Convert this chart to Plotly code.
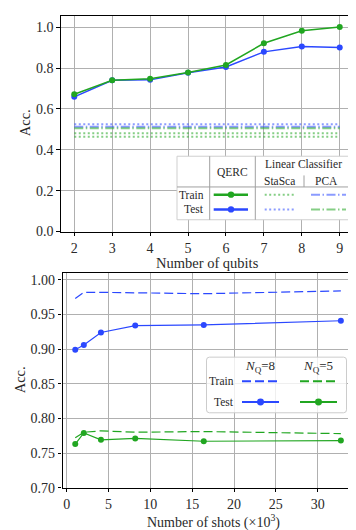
import plotly.graph_objects as go

W, H = 356, 530
FONT = "Liberation Serif"
GREEN = "#21a621"
BLUE = "#2b48ff"
LGREEN = "rgba(33,166,33,0.55)"
LBLUE = "rgba(43,72,255,0.55)"
GRID = "#b0b0b0"

# Top panel: accuracy vs number of qubits
qubits = [2, 3, 4, 5, 6, 7, 8, 9]
qerc_train = [0.672, 0.740, 0.747, 0.778, 0.815, 0.921, 0.982, 1.000]
qerc_test = [0.659, 0.740, 0.742, 0.777, 0.805, 0.879, 0.905, 0.900]
stasca_test = 0.525
pca_train = 0.513
pca_test = 0.505
stasca_train = [0.481, 0.464]

# Bottom panel: accuracy vs number of shots (x10^3)
shots = [1.024, 2.048, 4.096, 8.192, 16.384, 32.768]
nq8_train = [0.973, 0.982, 0.982, 0.981, 0.980, 0.984]
nq8_test = [0.899, 0.906, 0.924, 0.934, 0.935, 0.941]
nq5_train = [0.772, 0.780, 0.782, 0.780, 0.781, 0.778]
nq5_test = [0.763, 0.779, 0.769, 0.771, 0.767, 0.768]

top_yticks = [0.0, 0.2, 0.4, 0.6, 0.8, 1.0]
bot_yticks = [0.70, 0.75, 0.80, 0.85, 0.90, 0.95, 1.00]
bot_xticks = [0, 5, 10, 15, 20, 25, 30]


def px(x):
    return x / W


def py(y):
    return 1 - y / H


fig = go.Figure()

# ---- top panel traces
span = [qubits[0], qubits[-1]]
fig.add_trace(go.Scatter(x=span, y=[stasca_test] * 2, mode="lines",
                         line=dict(color=LBLUE, width=2, dash="2px,2.5px"),
                         xaxis="x", yaxis="y"))
fig.add_trace(go.Scatter(x=span, y=[pca_train] * 2, mode="lines",
                         line=dict(color=LBLUE, width=2, dash="9px,2.5px,1.5px,2.5px"),
                         xaxis="x", yaxis="y"))
fig.add_trace(go.Scatter(x=span, y=[pca_test] * 2, mode="lines",
                         line=dict(color=LGREEN, width=2, dash="9px,2.5px,1.5px,2.5px"),
                         xaxis="x", yaxis="y"))
for lvl in stasca_train:
    fig.add_trace(go.Scatter(x=span, y=[lvl] * 2, mode="lines",
                             line=dict(color=LGREEN, width=2, dash="2px,2.5px"),
                             xaxis="x", yaxis="y"))
fig.add_trace(go.Scatter(x=qubits, y=qerc_test, mode="lines+markers",
                         line=dict(color=BLUE, width=1.5), marker=dict(size=6, color=BLUE),
                         xaxis="x", yaxis="y"))
fig.add_trace(go.Scatter(x=qubits, y=qerc_train, mode="lines+markers",
                         line=dict(color=GREEN, width=1.5), marker=dict(size=6, color=GREEN),
                         xaxis="x", yaxis="y"))

# ---- bottom panel traces
fig.add_trace(go.Scatter(x=shots, y=nq8_train, mode="lines",
                         line=dict(color=BLUE, width=1.2, dash="9px,4px"),
                         xaxis="x2", yaxis="y2"))
fig.add_trace(go.Scatter(x=shots, y=nq5_train, mode="lines",
                         line=dict(color=GREEN, width=1.2, dash="9px,4px"),
                         xaxis="x2", yaxis="y2"))
fig.add_trace(go.Scatter(x=shots, y=nq8_test, mode="lines+markers",
                         line=dict(color=BLUE, width=1.2), marker=dict(size=6, color=BLUE),
                         xaxis="x2", yaxis="y2"))
fig.add_trace(go.Scatter(x=shots, y=nq5_test, mode="lines+markers",
                         line=dict(color=GREEN, width=1.2), marker=dict(size=6, color=GREEN),
                         xaxis="x2", yaxis="y2"))

axis_common = dict(
    showline=True, mirror=True, linecolor="black", linewidth=1.2,
    showgrid=True, gridcolor=GRID, gridwidth=1.2, zeroline=False,
    ticks="outside", ticklen=3.5, tickwidth=1, tickcolor="black",
    tickfont=dict(family=FONT, size=14, color="#2a2a2a"),
)

fig.update_layout(
    width=W, height=H,
    margin=dict(l=0, r=0, t=0, b=0),
    paper_bgcolor="white", plot_bgcolor="white",
    showlegend=False,
    font=dict(family=FONT, color="#2a2a2a"),
    xaxis=dict(domain=[px(53), px(345)], range=[1.65, 9.35], anchor="y",
               tickvals=qubits, **axis_common),
    yaxis=dict(domain=[py(227), py(8)], range=[0, 1.055], anchor="x",
               tickvals=top_yticks, tickformat=".1f", **axis_common),
    xaxis2=dict(domain=[px(54.5), px(346.5)], range=[-0.5, 34.4], anchor="y2",
                tickvals=bot_xticks, **axis_common),
    yaxis2=dict(domain=[py(487), py(269)], range=[0.70, 1.01], anchor="x2",
                tickvals=bot_yticks, tickformat=".2f", **axis_common),
)

shapes = []
annots = []


def line(x0, x1, y0, y1, color, width=1, dash="solid"):
    shapes.append(dict(type="line", xref="paper", yref="paper",
                       x0=px(x0), x1=px(x1), y0=py(y0), y1=py(y1),
                       line=dict(color=color, width=width, dash=dash)))


def dot(x, y, color, r=3.2):
    shapes.append(dict(type="circle", xref="paper", yref="paper",
                       x0=px(x - r), x1=px(x + r), y0=py(y + r), y1=py(y - r),
                       fillcolor=color, line=dict(color=color, width=0)))


def text(s, x, y, size=11.5, xanchor="center", angle=0):
    annots.append(dict(text=s, x=px(x), y=py(y), xref="paper", yref="paper",
                       showarrow=False, xanchor=xanchor, yanchor="middle",
                       textangle=angle, font=dict(family=FONT, size=size, color="#2a2a2a")))


# axis titles
text("Number of qubits", 199, 258.5, size=14.5)
text("Acc.", 17, 117, size=14.5, angle=-90)
text("Number of shots (×10<sup>3</sup>)", 205, 521.5, size=14)
text("Acc.", 12, 378, size=14.5, angle=-90)

# ---- top legend table
shapes.append(dict(type="rect", xref="paper", yref="paper",
                   x0=px(169), x1=px(341), y0=py(215), y1=py(150.5),
                   fillcolor="white", line=dict(color="#cfcfcf", width=1)))
line(201.7, 201.7, 150.5, 215, "#a0a0a0")
line(247.3, 247.3, 150.5, 215, "#a0a0a0")
line(169, 341, 181.7, 181.7, "#a0a0a0")
line(296, 296, 170, 181.7, "#a0a0a0")
text("QERC", 224, 166.5)
text("Linear Classifier", 295.5, 158.5)
text("StaSca", 271.5, 175.5)
text("PCA", 318.5, 175.5)
text("Train", 197.5, 189.5, xanchor="right")
text("Test", 197.5, 204.5, xanchor="right")
line(205.7, 240, 189.5, 189.5, GREEN, 2.5)
dot(223, 189.5, GREEN)
line(205.7, 240, 204.5, 204.5, BLUE, 2.5)
dot(223, 204.5, BLUE)
line(256.7, 288, 189.5, 189.5, LGREEN, 2, "2px,2.5px")
line(256.7, 288, 204.5, 204.5, LBLUE, 2, "2px,2.5px")
line(303, 338, 189.5, 189.5, LBLUE, 2, "9px,2.5px,1.5px,2.5px")
line(303, 338, 204.5, 204.5, LGREEN, 2, "9px,2.5px,1.5px,2.5px")

# ---- bottom legend
x0, x1, y0, y1, r = px(198.5), px(338.5), py(411), py(354.5), 3
rx, ry = r / W, r / H
shapes.append(dict(
    type="path", xref="paper", yref="paper",
    path=(f"M {x0 + rx} {y0} L {x1 - rx} {y0} Q {x1} {y0} {x1} {y0 + ry} "
          f"L {x1} {y1 - ry} Q {x1} {y1} {x1 - rx} {y1} L {x0 + rx} {y1} "
          f"Q {x0} {y1} {x0} {y1 - ry} L {x0} {y0 + ry} Q {x0} {y0} {x0 + rx} {y0} Z"),
    fillcolor="rgba(255,255,255,0.8)", line=dict(color="#cccccc", width=1)))
text("<i>N</i><sub>Q</sub>=8", 252, 364, size=13)
text("<i>N</i><sub>Q</sub>=5", 310, 364, size=13)
text("Train", 228, 379, xanchor="right")
text("Test", 228, 400, xanchor="right")
line(234, 271, 379, 379, BLUE, 2, "9px,4px")
line(292, 329, 379, 379, GREEN, 2, "9px,4px")
line(234, 271, 400, 400, BLUE, 2)
dot(252.5, 400, BLUE, 3.5)
line(292, 329, 400, 400, GREEN, 2)
dot(310.5, 400, GREEN, 3.5)

fig.update_layout(shapes=shapes, annotations=annots)

fig.write_html("out.html")
